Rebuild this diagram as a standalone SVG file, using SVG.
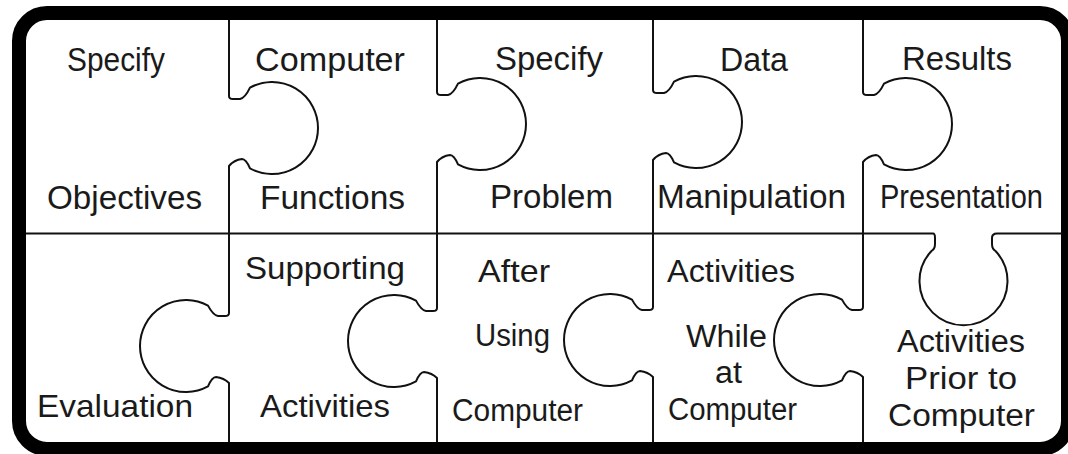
<svg xmlns="http://www.w3.org/2000/svg" width="1068" height="454" viewBox="0 0 1068 454">
  <style>
    .frame { fill: none; stroke: #000; stroke-width: 14; }
    .cut { fill: none; stroke: #111; stroke-width: 2; stroke-linejoin: round; }
    text { font-family: "Liberation Sans", Arial, sans-serif; font-size: 33px; fill: #1a1a1a; text-anchor: start; }
    .low { font-size: 32px; }
    .stack { font-size: 31px; }
  </style>
  <rect width="1068" height="454" fill="#fff"/>

  <!-- outer tray -->
  <rect class="frame" x="19" y="13" width="1049" height="436" rx="28" ry="28"/>

  <!-- cut lines between the pieces -->
  <g id="cuts">
    <!-- middle horizontal cut, with the tab that drops into the lower right piece -->
    <path class="cut" d="M26,233.5 H933 Q935,233.5 935,238 V244 Q935,249 931.5,251 A44,44 0 1 0 995.5,251 Q992,249 992,244 V238 Q992,233.5 997,233.5 H1062"/>
    <!-- upper row: tabs pointing right -->
    <path class="cut" d="M229,20 V96 Q229,99 233,99 L240,99 Q245,98 250,87.6 A46,46 0 1 1 250,168.4 Q246,159 242,159 Q234,160 229,166 V234"/>
    <path class="cut" d="M437,20 V92 Q437,95 441,95 L448,95 Q453,94 458,83.6 A46,46 0 1 1 458,164.4 Q454,155 450,155 Q442,156 437,162 V234"/>
    <path class="cut" d="M653,20 V90 Q653,93 657,93 L664,93 Q669,92 674,81.6 A46,46 0 1 1 674,162.4 Q670,153 666,153 Q658,154 653,160 V234"/>
    <path class="cut" d="M863,20 V92 Q863,95 867,95 L874,95 Q879,94 884,83.6 A46,46 0 1 1 884,164.4 Q880,155 876,155 Q868,156 863,162 V234"/>
    <!-- lower row: tabs pointing left -->
    <path class="cut" d="M229,234 V313 Q229,316 225,316 L218,316 Q213,315 208,305.6 A46,46 0 1 0 208,386.4 Q212,377 216,377 Q224,378 229,383 V442"/>
    <path class="cut" d="M437,234 V308 Q437,311 433,311 L426,311 Q421,310 416,300.6 A46,46 0 1 0 416,381.4 Q420,372 424,372 Q432,373 437,378 V442"/>
    <path class="cut" d="M653,234 V307 Q653,310 649,310 L642,310 Q637,309 632,299.6 A46,46 0 1 0 632,380.4 Q636,371 640,371 Q648,372 653,377 V442"/>
    <path class="cut" d="M863,234 V307 Q863,310 859,310 L852,310 Q847,309 842,299.6 A46,46 0 1 0 842,380.4 Q846,371 850,371 Q858,372 863,377 V442"/>
  </g>

  <!-- upper row pieces -->
  <g id="piece-specify-objectives">
    <text x="67" y="71" textLength="98" lengthAdjust="spacingAndGlyphs">Specify</text>
    <text x="47" y="209" textLength="155" lengthAdjust="spacingAndGlyphs">Objectives</text>
  </g>
  <g id="piece-computer-functions">
    <text x="255" y="71" textLength="150" lengthAdjust="spacingAndGlyphs">Computer</text>
    <text x="260" y="209" textLength="145" lengthAdjust="spacingAndGlyphs">Functions</text>
  </g>
  <g id="piece-specify-problem">
    <text x="495" y="70" textLength="108" lengthAdjust="spacingAndGlyphs">Specify</text>
    <text x="490" y="208" textLength="123" lengthAdjust="spacingAndGlyphs">Problem</text>
  </g>
  <g id="piece-data-manipulation">
    <text x="720" y="71" textLength="68" lengthAdjust="spacingAndGlyphs">Data</text>
    <text x="657" y="208" textLength="189" lengthAdjust="spacingAndGlyphs">Manipulation</text>
  </g>
  <g id="piece-results-presentation">
    <text x="902" y="70" textLength="110" lengthAdjust="spacingAndGlyphs">Results</text>
    <text x="880" y="208" textLength="163" lengthAdjust="spacingAndGlyphs">Presentation</text>
  </g>

  <!-- lower row pieces -->
  <g id="piece-evaluation">
    <text class="low" x="37" y="417" textLength="156" lengthAdjust="spacingAndGlyphs">Evaluation</text>
  </g>
  <g id="piece-supporting-activities">
    <text class="low" x="245" y="279" textLength="160" lengthAdjust="spacingAndGlyphs">Supporting</text>
    <text class="low" x="260" y="417" textLength="130" lengthAdjust="spacingAndGlyphs">Activities</text>
  </g>
  <g id="piece-after-using-computer">
    <text class="low" x="478" y="282" textLength="72" lengthAdjust="spacingAndGlyphs">After</text>
    <text class="low" x="475" y="346" textLength="75" lengthAdjust="spacingAndGlyphs">Using</text>
    <text class="stack" x="452" y="421" textLength="131" lengthAdjust="spacingAndGlyphs">Computer</text>
  </g>
  <g id="piece-activities-while-at-computer">
    <text class="low" x="667" y="282" textLength="128" lengthAdjust="spacingAndGlyphs">Activities</text>
    <text class="stack" x="686" y="347" textLength="81" lengthAdjust="spacingAndGlyphs">While</text>
    <text class="stack" x="715" y="383" textLength="27" lengthAdjust="spacingAndGlyphs">at</text>
    <text class="stack" x="668" y="420" textLength="129" lengthAdjust="spacingAndGlyphs">Computer</text>
  </g>
  <g id="piece-activities-prior-to-computer">
    <text class="stack" x="897" y="352" textLength="128" lengthAdjust="spacingAndGlyphs">Activities</text>
    <text class="stack" x="905" y="389" textLength="112" lengthAdjust="spacingAndGlyphs">Prior to</text>
    <text class="stack" x="888" y="426" textLength="147" lengthAdjust="spacingAndGlyphs">Computer</text>
  </g>
</svg>
